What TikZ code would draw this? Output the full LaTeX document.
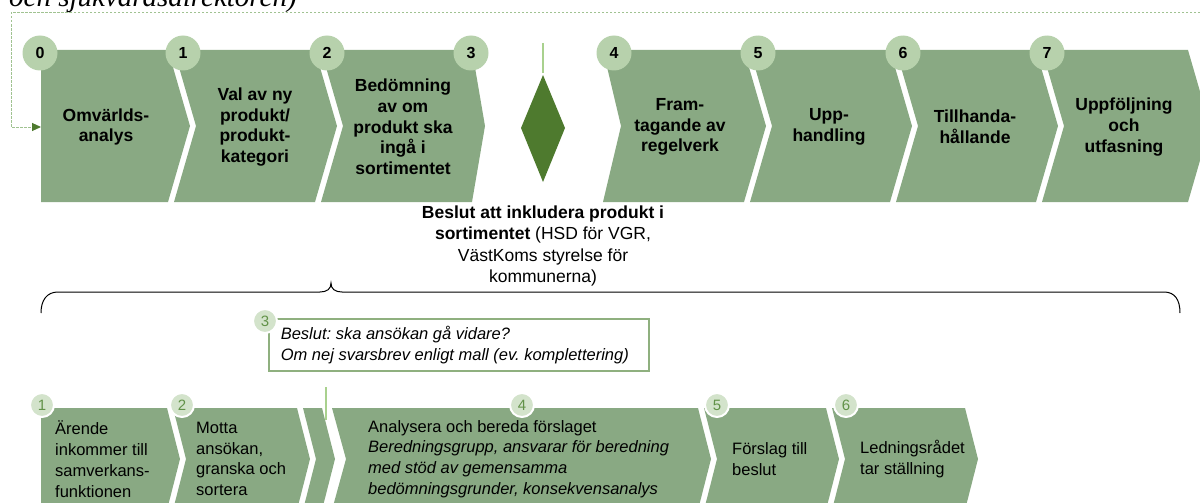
\documentclass[tikz,border=0pt]{standalone}
\usepackage{fontspec}
\setmainfont{Liberation Sans}
\newfontfamily\headserif{Liberation Serif}
\usetikzlibrary{arrows.meta}
\frenchspacing

\definecolor{chevfill}{RGB}{137,169,131}
\definecolor{circtop}{RGB}{183,209,172}
\definecolor{circbot}{RGB}{211,227,203}
\definecolor{numgreen}{RGB}{98,146,72}
\definecolor{darkgreen}{RGB}{78,122,46}
\definecolor{linegreen}{RGB}{169,209,142}
\definecolor{dotgreen}{RGB}{160,194,145}
\definecolor{boxgreen}{RGB}{143,176,127}

% chevron: left x, right x, top y, bottom y, tip depth, notch depth
\newcommand\chevshape[6]{%
  \fill[chevfill] (#1,#3) -- (#2,#3) -- ({#2+#5},{(#3+#4)/2}) -- (#2,#4)
    -- (#1,#4) -- ({#1+#6},{(#3+#4)/2}) -- cycle;}

\tikzset{
  toptext/.style={align=center, inner sep=0pt,
    font=\bfseries\fontsize{17.5}{20.7}\selectfont},
  bottext/.style={align=left, anchor=west, inner sep=0pt,
    font=\fontsize{16.5}{20.8}\selectfont},
  topnum/.style={circle, fill=circtop, minimum size=35pt, inner sep=0pt,
    font=\bfseries\fontsize{16}{16}\selectfont},
  botnum/.style={circle, fill=circbot, draw=white, line width=2pt,
    minimum size=24pt, inner sep=0pt, text=numgreen,
    font=\fontsize{15}{15}\selectfont},
  dotline/.style={dotgreen, line width=1pt, dash pattern=on 2.5pt off 1.5pt},
  vtick/.style={linegreen, line width=1.5pt},
}

\begin{document}
\begin{tikzpicture}[x=1pt,y=-1pt]
\useasboundingbox (0,0) rectangle (1200,503);

% heading carried over from above
\node[anchor=base west, inner sep=0pt, font=\headserif\itshape\fontsize{29}{29}\selectfont]
  (head) at (9,6.5) {och sjukvårdsdirektören)};

% ---- upper process row ----
\chevshape{41}{168}{50}{202}{22}{0}
\chevshape{174}{315}{50}{202}{22}{22}
\chevshape{321}{472}{50}{202}{13}{22}
\chevshape{603}{744}{50}{202}{22}{18}
\chevshape{750}{890}{50}{202}{22}{22}
\chevshape{896}{1036}{50}{202}{22}{22}
\chevshape{1042}{1188}{50}{202}{22}{22}

\node[toptext] (s0) at (106,127) {Omvärlds-\\analys};
\node[toptext] (s1) at (255,127) {Val av ny\\produkt/\\produkt-\\kategori};
\node[toptext] (s2) at (403,127) {Bedömning\\av om\\produkt ska\\ingå i\\sortimentet};
\node[toptext] (s4) at (680,127) {Fram-\\tagande av\\regelverk};
\node[toptext] (s5) at (829,127) {Upp-\\handling};
\node[toptext] (s6) at (975,127) {Tillhanda-\\hållande};
\node[toptext] (s7) at (1124,127) {Uppföljning\\och\\utfasning};

% decision diamond with its tick above
\fill[darkgreen] (543,75) -- (565,128) -- (543,182) -- (521,128) -- cycle;
\coordinate (dtop) at (543,75);
\coordinate (dtick) at (543,43);
\draw[vtick] (dtick) -- ([yshift=2pt]dtop);

\node[topnum] (n0) at (40,53) {0};
\node[topnum] (n1) at (183,53) {1};
\node[topnum] (n2) at (327,53) {2};
\node[topnum] (n3) at (471,53) {3};
\node[topnum] (n4) at (614,53) {4};
\node[topnum] (n5) at (758,53) {5};
\node[topnum] (n6) at (903,53) {6};
\node[topnum] (n7) at (1047,53) {7};

% feedback loop into the first step
\coordinate (loopin) at (1200,13);
\coordinate (loopcorner) at (11,13);
\coordinate (s0w) at (41,127);
\draw[dotline, -{Triangle[length=9pt,width=8pt,fill=darkgreen,color=darkgreen]}]
  (loopin) -- (loopcorner) |- (s0w);

% decision text
\node[align=center, inner sep=0pt, font=\fontsize{17.5}{21.3}\selectfont]
  (dec) at (543,246)
  {\textbf{Beslut att inkludera produkt i}\\\textbf{sortimentet} (HSD för VGR,\\VästKoms styrelse för\\kommunerna)};

% brace spanning the detailed sub-process
\draw[line width=1pt]
  (41,313) .. controls (41,300) and (47,292) .. (58,292)
  -- (320,292) .. controls (327,292) and (331,289) .. (331,283)
  .. controls (331,289) and (335,292) .. (342,292)
  -- (1164,292) .. controls (1175,292) and (1180,300) .. (1180,313);

% ---- lower sub-process row ----
\chevshape{41}{167}{408}{510}{13}{0}
\chevshape{173}{297}{408}{510}{13}{13}
\chevshape{303}{322}{408}{510}{13}{13}
\chevshape{332}{698}{408}{510}{13}{14}
\chevshape{704}{826}{408}{510}{13}{13}
\chevshape{832}{965}{408}{510}{13}{13}

\coordinate (btick) at (326,387);
\coordinate (bend) at (326,420);
\draw[vtick] (btick) -- (bend);

\node[bottext] (b1) at (55,459) {Ärende\\inkommer till\\samverkans-\\funktionen};
\node[bottext] (b2) at (196,459) {Motta\\ansökan,\\granska och\\sortera};
\node[bottext] (b4) at (368,459) {Analysera och bereda förslaget\\\itshape Beredningsgrupp, ansvarar för beredning\\\itshape med stöd av gemensamma\\\itshape bedömningsgrunder, konsekvensanalys};
\node[bottext] (b5) at (732,459) {Förslag till\\beslut};
\node[bottext] (b6) at (860,459) {Ledningsrådet\\tar ställning};

% screening decision box
\node[draw=boxgreen, line width=1.5pt, anchor=north west, minimum width=380pt,
  minimum height=52pt, inner xsep=12pt, inner ysep=0pt,
  align=left, font=\itshape\fontsize{16.5}{20.8}\selectfont]
  (box3) at (268,318) {Beslut: ska ansökan gå vidare?\\Om nej svarsbrev enligt mall (ev. komplettering)\hspace*{8pt}};

\node[botnum] (m1) at (42,405) {1};
\node[botnum] (m2) at (182,405) {2};
\node[botnum] (m3) at (265,321) {3};
\node[botnum] (m4) at (522,405) {4};
\node[botnum] (m5) at (717,405) {5};
\node[botnum] (m6) at (846,405) {6};

\end{tikzpicture}
\end{document}
